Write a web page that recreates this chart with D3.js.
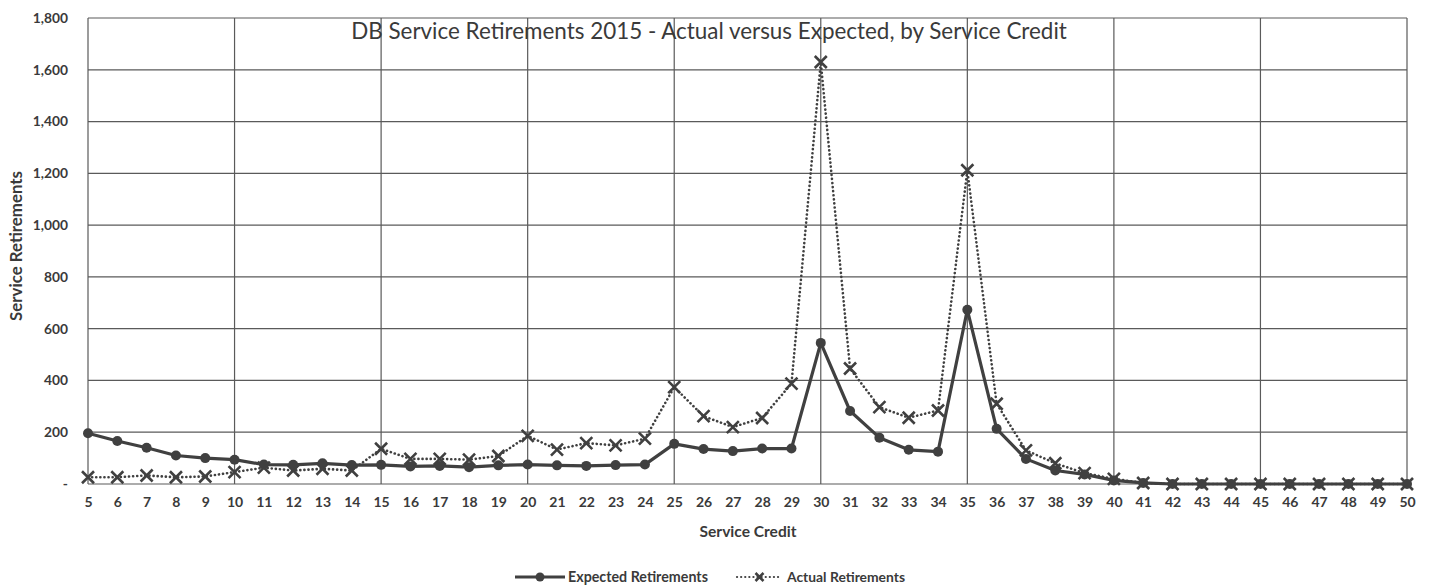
<!DOCTYPE html>
<html>
<head>
<meta charset="utf-8">
<script src="https://cdn.jsdelivr.net/npm/d3@7"></script>
<style>
  html, body { margin: 0; padding: 0; background: #fff; }
  svg { display: block; }
  text { font-family: Lato, "Open Sans", sans-serif; fill: #3a3a3a; }
</style>
</head>
<body>
<svg id="chart" width="1429" height="586"></svg>
<script>
const serviceCredit = d3.range(5, 51);
const expectedRetirements = [196,166,140,110,100,94,75,74,80,73,74,68,70,65,72,75,72,70,73,75,
  155,135,127,137,137,545,282,179,132,125,673,213,97,52,37,14,4,0,0,0,0,0,0,0,0,0];
const actualRetirements = [26,26,33,26,29,46,63,52,59,52,136,97,97,94,108,186,133,158,149,175,
  374,262,220,255,388,1630,446,297,256,284,1212,310,130,80,42,20,4,0,0,0,0,0,0,0,0,0];
const yTicks = [0,200,400,600,800,1000,1200,1400,1600,1800];
const xGridTicks = [5,10,15,20,25,30,35,40,45,50];
const titleText = "DB Service Retirements 2015 - Actual versus Expected, by Service Credit";
const seriesNames = ["Expected Retirements", "Actual Retirements"];

const svg = d3.select("#chart");
const m = { left: 88, right: 1407, top: 18, bottom: 484 };
const x = d3.scaleLinear().domain([5, 50]).range([m.left, m.right]);
const y = d3.scaleLinear().domain([0, 1800]).range([m.bottom, m.top]);
const ink = "#404040";

function fit(sel, target) {
  const fs = parseFloat(sel.attr("font-size"));
  const w = sel.node().getComputedTextLength();
  if (w > 0) sel.attr("font-size", (fs * target / w).toFixed(2));
  return sel;
}

// gridlines
const g = svg.append("g");
g.selectAll("line.h").data(yTicks).join("line")
  .attr("x1", m.left).attr("x2", m.right)
  .attr("y1", d => y(d)).attr("y2", d => y(d))
  .attr("stroke", "#5a5a5a").attr("stroke-width", 1.2);
g.selectAll("line.v").data(xGridTicks).join("line")
  .attr("x1", d => x(d)).attr("x2", d => x(d))
  .attr("y1", m.top).attr("y2", m.bottom)
  .attr("stroke", "#5a5a5a").attr("stroke-width", 1.2);

// y axis labels
const yAxis = d3.axisLeft(y).tickValues(yTicks).tickSize(0).tickPadding(0)
  .tickFormat(d => d === 0 ? "-" : d3.format(",")(d));
svg.append("g").attr("transform", `translate(68,0)`).call(yAxis)
  .call(s => s.select(".domain").remove())
  .selectAll("text").attr("font-size", 13.8).attr("font-weight", "bold")
  .style("font-family", "Lato, sans-serif").attr("fill", "#3a3a3a");

// x axis labels
const xAxis = d3.axisBottom(x).tickValues(serviceCredit).tickSize(0).tickPadding(0)
  .tickFormat(d3.format("d"));
svg.append("g").attr("transform", `translate(0,497)`).call(xAxis)
  .call(s => s.select(".domain").remove())
  .selectAll("text").attr("font-size", 14).attr("font-weight", "bold")
  .style("font-family", "Lato, sans-serif").attr("fill", "#3a3a3a");

// axis titles
fit(svg.append("text").attr("x", 748).attr("y", 537).attr("text-anchor", "middle")
  .attr("font-size", 14).attr("font-weight", "bold").text("Service Credit"), 97);
fit(svg.append("text").attr("transform", "translate(22,246) rotate(-90)")
  .attr("text-anchor", "middle").attr("font-size", 14).attr("font-weight", "bold")
  .text("Service Retirements"), 150);

// title
fit(svg.append("text").attr("x", 709).attr("y", 39).attr("text-anchor", "middle")
  .attr("font-size", 21).attr("fill", "#333").text(titleText), 716);

const data = serviceCredit.map((c, i) => ({ c, e: expectedRetirements[i], a: actualRetirements[i] }));

// actual series (dotted + X)
const lineA = d3.line().x(d => x(d.c)).y(d => y(d.a));
svg.append("path").datum(data).attr("d", lineA).attr("fill", "none")
  .attr("stroke", ink).attr("stroke-width", 2.6).attr("stroke-dasharray", "0.1,4")
  .attr("stroke-linecap", "round");
const xm = 6;
function cross(sel, cx, cy, s) {
  sel.append("path").attr("d", `M${cx-s},${cy-s}L${cx+s},${cy+s}M${cx-s},${cy+s}L${cx+s},${cy-s}`)
    .attr("stroke", ink).attr("stroke-width", 2.6).attr("fill", "none");
}
const xg = svg.append("g");
data.forEach(d => cross(xg, x(d.c), y(d.a), xm));

// expected series (solid + circles)
const lineE = d3.line().x(d => x(d.c)).y(d => y(d.e));
svg.append("path").datum(data).attr("d", lineE).attr("fill", "none")
  .attr("stroke", ink).attr("stroke-width", 3.2).attr("stroke-linejoin", "round");
svg.append("g").selectAll("circle").data(data).join("circle")
  .attr("cx", d => x(d.c)).attr("cy", d => y(d.e)).attr("r", 5).attr("fill", ink);

// legend
const lg = svg.append("g");
lg.append("line").attr("x1", 515).attr("x2", 565).attr("y1", 577).attr("y2", 577)
  .attr("stroke", ink).attr("stroke-width", 3.2);
lg.append("circle").attr("cx", 540).attr("cy", 577).attr("r", 4.5).attr("fill", ink);
fit(lg.append("text").attr("x", 568).attr("y", 581.5).attr("font-size", 12).attr("font-weight", "bold")
  .text(seriesNames[0]), 140);
lg.append("line").attr("x1", 737).attr("x2", 782).attr("y1", 577).attr("y2", 577)
  .attr("stroke", ink).attr("stroke-width", 2.2).attr("stroke-dasharray", "0.1,4")
  .attr("stroke-linecap", "round");
cross(lg, 759.5, 577, 4);
fit(lg.append("text").attr("x", 787).attr("y", 581.5).attr("font-size", 12).attr("font-weight", "bold")
  .text(seriesNames[1]), 118);
</script>
</body>
</html>
